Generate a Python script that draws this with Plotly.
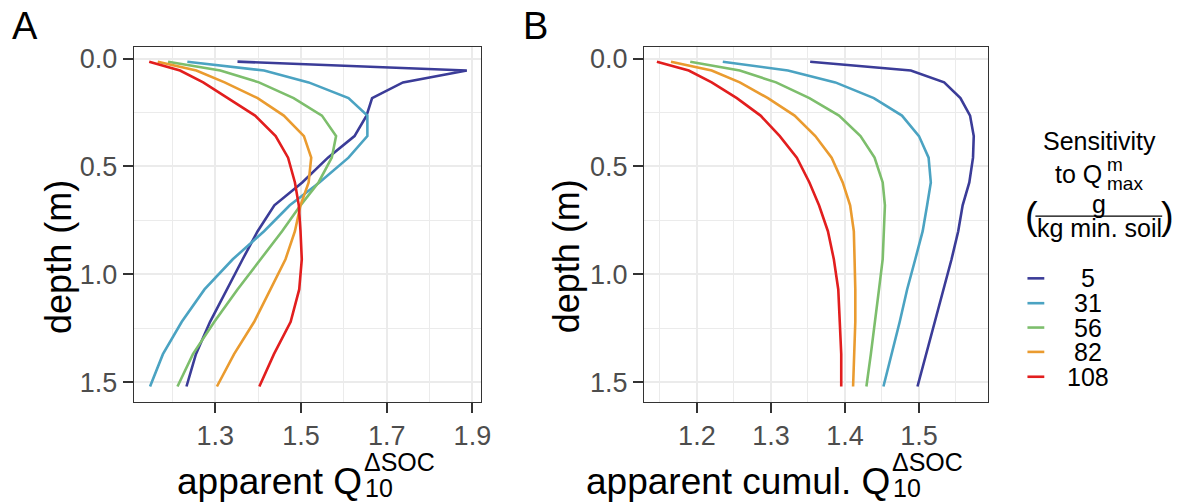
import plotly.graph_objects as go

# ---------------- data ----------------
depth = [0.014, 0.055, 0.11, 0.183, 0.264, 0.359, 0.459, 0.574, 0.68, 0.80, 0.93, 1.07, 1.22, 1.37, 1.52]

sensitivity = ["5", "31", "56", "82", "108"]
colors = ["#3B3C98", "#4BA3C2", "#7DBE6C", "#EA9B2F", "#E21E1E"]

# panel A: apparent Q10 (per layer)
qa_5 = [1.352, 1.887, 1.738, 1.666, 1.653, 1.625, 1.563, 1.503, 1.438, 1.399, 1.364, 1.328, 1.288, 1.255, 1.233]
qa_31 = [1.235, 1.414, 1.518, 1.611, 1.655, 1.655, 1.611, 1.543, 1.474, 1.414, 1.341, 1.275, 1.222, 1.178, 1.148]
qa_56 = [1.190, 1.312, 1.402, 1.483, 1.549, 1.582, 1.572, 1.541, 1.499, 1.456, 1.406, 1.352, 1.298, 1.248, 1.212]
qa_82 = [1.166, 1.256, 1.322, 1.399, 1.460, 1.507, 1.524, 1.518, 1.499, 1.486, 1.464, 1.429, 1.391, 1.344, 1.304]
qa_108 = [1.146, 1.218, 1.272, 1.329, 1.393, 1.441, 1.470, 1.486, 1.495, 1.499, 1.502, 1.496, 1.476, 1.437, 1.403]

# panel B: apparent cumulative Q10
qb_5 = [1.353, 1.489, 1.534, 1.556, 1.569, 1.574, 1.573, 1.568, 1.559, 1.553, 1.544, 1.533, 1.521, 1.510, 1.498]
qb_31 = [1.235, 1.323, 1.387, 1.439, 1.477, 1.500, 1.513, 1.516, 1.511, 1.505, 1.495, 1.484, 1.474, 1.463, 1.452]
qb_56 = [1.191, 1.258, 1.307, 1.352, 1.392, 1.421, 1.440, 1.451, 1.454, 1.453, 1.451, 1.446, 1.441, 1.435, 1.429]
qb_82 = [1.165, 1.220, 1.258, 1.296, 1.332, 1.360, 1.382, 1.397, 1.407, 1.412, 1.413, 1.414, 1.414, 1.413, 1.411]
qb_108 = [1.146, 1.189, 1.220, 1.254, 1.286, 1.312, 1.335, 1.352, 1.365, 1.377, 1.385, 1.391, 1.393, 1.395, 1.395]

panel_a = [qa_5, qa_31, qa_56, qa_82, qa_108]
panel_b = [qb_5, qb_31, qb_56, qb_82, qb_108]

y_ticks = [0.0, 0.5, 1.0, 1.5]
xa_ticks = [1.3, 1.5, 1.7, 1.9]
xb_ticks = [1.2, 1.3, 1.4, 1.5]

# ---------------- figure ----------------
W, H = 1195, 502
FONT = "Liberation Sans, Arial, Helvetica, sans-serif"


def fx(p):
    return p / W


def fy(p):
    return 1 - p / H


fig = go.Figure()
for i, name in enumerate(sensitivity):
    fig.add_trace(go.Scatter(x=panel_a[i], y=depth, mode="lines", name=name,
                             line=dict(color=colors[i], width=2.6),
                             xaxis="x", yaxis="y", showlegend=False))
    fig.add_trace(go.Scatter(x=panel_b[i], y=depth, mode="lines", name=name,
                             line=dict(color=colors[i], width=2.6),
                             xaxis="x2", yaxis="y2", showlegend=False))

GRID = "#EBEBEB"
axis_common = dict(
    showgrid=True, gridcolor=GRID, gridwidth=2,
    zeroline=False, showline=True, linecolor="#333333", linewidth=1.3, mirror=True,
    ticks="outside", ticklen=10, tickwidth=2, tickcolor="#333333",
    tickfont=dict(family=FONT, size=27, color="#4D4D4D"),
)

ydom = [fy(401), fy(44.7)]
yaxis_cfg = dict(axis_common, range=[1.590, -0.052], tickvals=y_ticks,
                 ticktext=[f"{v:.1f}" for v in y_ticks], domain=ydom,
                 minor=dict(dtick=0.25, tick0=0, showgrid=True, gridcolor=GRID, gridwidth=1))

fig.update_layout(
    width=W, height=H,
    margin=dict(l=0, r=0, t=0, b=0),
    paper_bgcolor="white", plot_bgcolor="white",
    xaxis=dict(axis_common, domain=[fx(135), fx(485)], range=[1.110, 1.919],
               tickvals=xa_ticks, ticktext=[f"{v:.1f}" for v in xa_ticks], anchor="y",
               minor=dict(dtick=0.1, tick0=1.1, showgrid=True, gridcolor=GRID, gridwidth=1)),
    yaxis=dict(yaxis_cfg, anchor="x"),
    xaxis2=dict(axis_common, domain=[fx(650), fx(997)], range=[1.1286, 1.593],
                tickvals=xb_ticks, ticktext=[f"{v:.1f}" for v in xb_ticks], anchor="y2",
                minor=dict(dtick=0.05, tick0=1.1, showgrid=True, gridcolor=GRID, gridwidth=1)),
    yaxis2=dict(yaxis_cfg, anchor="x2"),
    showlegend=False,
)

ann = []


def txt(text, x, y, size, xanchor="center", yanchor="middle", angle=0, color="black"):
    ann.append(dict(text=text, x=fx(x), y=fy(y), xref="paper", yref="paper",
                    xanchor=xanchor, yanchor=yanchor, showarrow=False, textangle=angle,
                    font=dict(family=FONT, size=size, color=color), borderpad=0))


# panel tags
txt("A", 25, 23, 38)
txt("B", 540, 23, 38)

# y-axis titles
txt("depth (m)", 59, 255, 36, angle=-90)
txt("depth (m)", 572, 255, 36, angle=-90)

# x-axis titles with stacked sub/superscript
txt("apparent Q", 366, 481, 37, xanchor="right")
txt("ΔSOC", 366, 462, 25, xanchor="left")
txt("10", 367, 488, 25, xanchor="left")
txt("apparent cumul. Q", 899, 481, 37, xanchor="right")
txt("ΔSOC", 899, 462, 25, xanchor="left")
txt("10", 900, 488, 25, xanchor="left")

# legend title
txt("Sensitivity", 1110, 139, 25)
txt("to Q", 1113, 172, 25, xanchor="right")
txt("m", 1116, 162, 19, xanchor="left")
txt("max", 1116, 182, 19, xanchor="left")
txt("g", 1109, 202, 25)
txt("kg min. soil", 1110, 226, 25)
txt("(", 1041, 214, 38)
txt(")", 1178, 214, 38)

shapes = [dict(type="line", xref="paper", yref="paper", x0=fx(1045), x1=fx(1173),
               y0=fy(214.5), y1=fy(214.5), line=dict(color="black", width=1.2))]

# legend keys
row_y = [277, 302, 326.5, 351, 376]
for i, name in enumerate(sensitivity):
    shapes.append(dict(type="line", xref="paper", yref="paper", x0=fx(1037), x1=fx(1054),
                       y0=fy(row_y[i]), y1=fy(row_y[i]), line=dict(color=colors[i], width=2.6)))
    txt(name, 1098, row_y[i], 25)

fig.update_layout(annotations=ann, shapes=shapes)
fig.write_html("out.html")
